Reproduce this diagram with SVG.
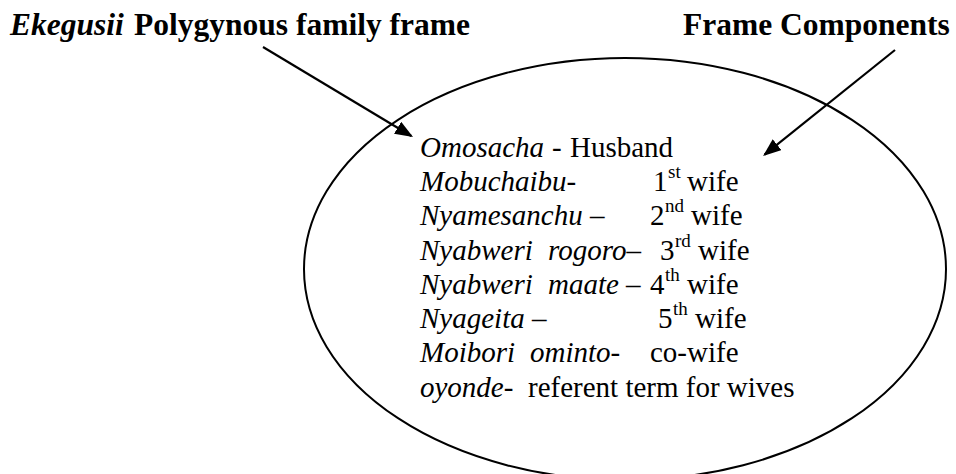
<svg xmlns="http://www.w3.org/2000/svg" width="956" height="474" viewBox="0 0 956 474">
  <style>
    text { fill: #000; }
    .title { font-family: 'Liberation Serif'; font-size: 31.5px; font-weight: bold; }
    .body { font-family: 'Liberation Serif'; font-size: 29px; }
    .sup { font-family: 'Liberation Serif'; font-size: 19px; }
    .frame { fill: none; stroke: #000; stroke-width: 2; }
    .link { fill: none; stroke: #000; stroke-width: 2.2; }
  </style>
  <defs>
    <marker id="head" markerUnits="userSpaceOnUse" markerWidth="18" markerHeight="14" refX="16" refY="7" orient="auto">
      <path d="M0,0 L18,7 L0,14 z" fill="#000"/>
    </marker>
  </defs>

  <!-- headings -->
  <g id="frame-title">
    <text x="10" y="35" style="font-family:'Liberation Serif';font-style:italic;font-weight:bold;font-size:31.5px">Ekegusii</text>
    <text class="title" x="134" y="35">Polygynous family frame</text>
  </g>
  <g id="components-title">
    <text class="title" x="683" y="35">Frame Components</text>
  </g>

  <!-- oval holding the frame components -->
  <g id="frame-oval">
    <ellipse class="frame" cx="625" cy="269" rx="321" ry="211"/>
  </g>

  <!-- list of kinship terms; ordinals carry raised suffixes -->
  <g id="components-list">
    <text x="420" y="157" style="font-family:'Liberation Serif';font-style:italic;font-size:29px">Omosacha</text>
    <text class="body" x="552" y="157">-</text>
    <text class="body" x="570" y="157">Husband</text>

    <text x="420" y="191" style="font-family:'Liberation Serif';font-style:italic;font-size:29px">Mobuchaibu-</text>
    <text class="body" x="653" y="191">1</text>
    <text class="sup" x="668" y="178">st</text>
    <text class="body" x="687" y="191">wife</text>

    <text x="420" y="225" style="font-family:'Liberation Serif';font-style:italic;font-size:29px">Nyamesanchu –</text>
    <text class="body" x="650" y="225">2</text>
    <text class="sup" x="665" y="212">nd</text>
    <text class="body" x="691" y="225">wife</text>

    <text x="420" y="260" style="font-family:'Liberation Serif';font-style:italic;font-size:29px">Nyabweri</text>
    <text x="548" y="260" style="font-family:'Liberation Serif';font-style:italic;font-size:29px">rogoro–</text>
    <text class="body" x="660" y="260">3</text>
    <text class="sup" x="675" y="247">rd</text>
    <text class="body" x="698" y="260">wife</text>

    <text x="420" y="294" style="font-family:'Liberation Serif';font-style:italic;font-size:29px">Nyabweri</text>
    <text x="548" y="294" style="font-family:'Liberation Serif';font-style:italic;font-size:29px">maate –</text>
    <text class="body" x="650" y="294">4</text>
    <text class="sup" x="665" y="281">th</text>
    <text class="body" x="687" y="294">wife</text>

    <text x="420" y="328" style="font-family:'Liberation Serif';font-style:italic;font-size:29px">Nyageita –</text>
    <text class="body" x="658" y="328">5</text>
    <text class="sup" x="673" y="315">th</text>
    <text class="body" x="695" y="328">wife</text>

    <text x="420" y="362" style="font-family:'Liberation Serif';font-style:italic;font-size:29px">Moibori</text>
    <text x="530" y="362" style="font-family:'Liberation Serif';font-style:italic;font-size:29px">ominto-</text>
    <text class="body" x="650" y="362">co-wife</text>

    <text x="420" y="397" style="font-family:'Liberation Serif';font-style:italic;font-size:29px">oyonde-</text>
    <text class="body" x="528" y="397">referent term for wives</text>
  </g>

  <!-- pointers from the headings into the oval -->
  <g id="connectors">
    <line class="link" x1="263" y1="47" x2="411.3" y2="136" marker-end="url(#head)"/>
    <line class="link" x1="895" y1="50" x2="764.6" y2="154.7" marker-end="url(#head)"/>
  </g>
</svg>
